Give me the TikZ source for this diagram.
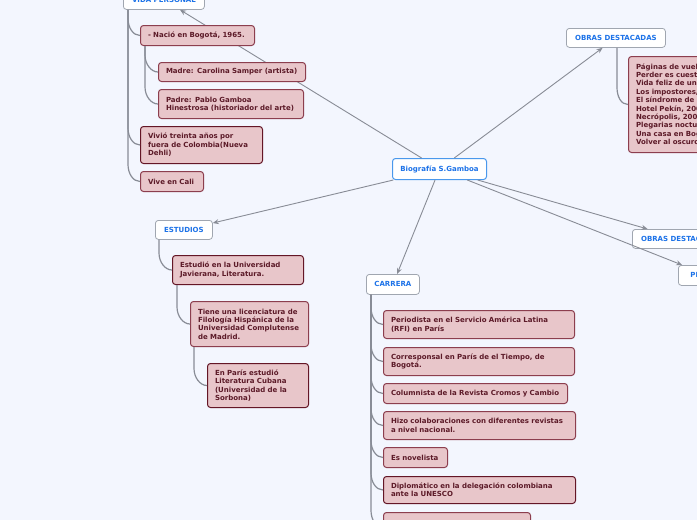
\documentclass[tikz,border=0pt]{standalone}
\usepackage{fontspec}
\setmainfont{DejaVu Sans}
\usetikzlibrary{arrows.meta,calc}

\definecolor{fondo}{RGB}{243,246,254}
\definecolor{rosa}{RGB}{232,198,202}
\definecolor{rosaborde}{RGB}{140,62,78}
\definecolor{rosaoscuro}{RGB}{100,22,38}
\definecolor{rosatexto}{RGB}{92,26,40}
\definecolor{azul}{RGB}{28,114,232}
\definecolor{azulborde}{RGB}{74,152,236}
\definecolor{temaborde}{RGB}{160,166,176}
\definecolor{linea}{RGB}{136,140,150}

\tikzset{
  letra/.style={font={\bfseries\fontsize{7}{8.4}\selectfont}},
  tema/.style={letra, draw=temaborde, fill=white, rounded corners=3pt,
    line width=0.8pt, text=azul, anchor=north west, inner sep=0pt},
  central/.style={tema, draw=azulborde, line width=1pt},
  idea/.style={letra, draw=rosaborde, fill=rosa, rounded corners=3pt,
    line width=1pt, text=rosatexto, anchor=north west, align=left,
    inner xsep=7.5pt, inner ysep=3pt},
  oscuro/.style={draw=rosaoscuro},
  flecha/.style={draw=linea, line width=0.9pt, -{Stealth[length=6pt,width=5pt]}},
  rama/.style={draw=linea, line width=1.2pt},
}

% rama desde el borde inferior del padre hasta el lado izquierdo del hijo
\newcommand\rama[3][5]{%
  \draw[rama] ([xshift=#1pt]#2.south west)
    -- ($(#2.south west |- #3.west)+(#1,-17)$)
    .. controls +(0,9) and +(-7,0) .. (#3.west);}

\begin{document}
\begin{tikzpicture}[x=1pt, y=-1pt]
    \useasboundingbox (0,0) rectangle (697,520);
    \fill[fondo] (0,0) rectangle (697,520);
    \clip (0,0) rectangle (697,520);

    % nodo central
    \node[central, minimum width=94pt, minimum height=21pt] (bio) at (392,158) {Biografía S.Gamboa};

    % temas
    \node[tema, minimum width=81pt, minimum height=19pt] (vida) at (123,-10) {VIDA PERSONAL};
    \node[tema, minimum width=99pt, minimum height=19pt] (obras) at (566,28) {OBRAS DESTACADAS};
    \node[tema, minimum width=57pt, minimum height=19pt] (estudios) at (155,220) {ESTUDIOS};
    \node[tema, minimum width=53pt, minimum height=20pt] (carrera) at (366,274) {CARRERA};
    \node[tema, minimum width=99pt, minimum height=19pt] (obrasdos) at (632,229) {OBRAS DESTACADAS};
    \node[tema, minimum width=60pt, minimum height=20pt] (premios) at (678,265) {PREMIOS};

    \foreach \t in {vida, obras, estudios, carrera, obrasdos, premios}
        \draw[flecha] (bio) -- (\t);

    % vida personal
    \node[idea, text width=99pt, minimum height=20pt] (nacio) at (140,25) {- Nació en Bogotá, 1965.};
    \node[idea, text width=132pt, minimum height=19pt] (madre) at (158,62) {Madre: Carolina Samper (artista)};
    \node[idea, text width=130pt, minimum height=29pt] (padre) at (158,89) {Padre: Pablo Gamboa\\Hinestrosa (historiador del arte)};
    \node[idea, oscuro, text width=107pt, minimum height=37pt] (vivio) at (140,126) {Vivió treinta años por\\fuera de Colombia(Nueva\\Dehli)};
    \node[idea, text width=48pt, minimum height=20pt] (cali) at (140,171) {Vive en Cali};
    \rama{vida}{nacio}
    \rama{vida}{vivio}
    \rama{vida}{cali}
    \rama{nacio}{madre}
    \rama{nacio}{padre}

    % obras destacadas
    \node[idea, text width=200pt, minimum height=96pt] (lista) at (628,56) {Páginas de vuelta, 1995\\Perder es cuestión de método, 1997\\Vida feliz de un joven llamado Esteban, 2000\\Los impostores, 2002\\El síndrome de Ulises, 2005\\Hotel Pekín, 2008\\Necrópolis, 2009\\Plegarias nocturnas, 2012\\Una casa en Bogotá, 2014\\Volver al oscuro valle, 2016};
    \rama[51]{obras}{lista}

    % estudios
    \node[idea, oscuro, text width=116pt, minimum height=29pt] (estuno) at (172,255) {Estudió en la Universidad\\Javierana, Literatura.};
    \node[idea, text width=103pt, minimum height=45pt] (estdos) at (190,301) {Tiene una licenciatura de\\Filología Hispánica de la\\Universidad Complutense\\de Madrid.};
    \node[idea, oscuro, text width=86pt, minimum height=44pt] (esttres) at (207,363) {En París estudió\\Literatura Cubana\\(Universidad de la\\Sorbona)};
    \rama[4]{estudios}{estuno}
    \rama{estuno}{estdos}
    \rama[4]{estdos}{esttres}

    % carrera
    \node[idea, text width=176pt, minimum height=28pt] (car1) at (383,310) {Periodista en el Servicio América Latina\\(RFI) en París};
    \node[idea, text width=176pt, minimum height=28pt] (car2) at (383,347) {Corresponsal en París de el Tiempo, de\\Bogotá.};
    \node[idea, text width=169pt, minimum height=20pt] (car3) at (383,383) {Columnista de la Revista Cromos y Cambio};
    \node[idea, text width=177pt, minimum height=28pt] (car4) at (383,411) {Hizo colaboraciones con diferentes revistas\\a nivel nacional.};
    \node[idea, text width=49pt, minimum height=20pt] (car5) at (383,447) {Es novelista};
    \node[idea, oscuro, text width=177pt, minimum height=27pt] (car6) at (383,476) {Diplomático en la delegación colombiana\\ante la UNESCO};
    \node[idea, text width=132pt, minimum height=30pt] (car7) at (383,512) {};
    \foreach \c in {car1, car2, car3, car4, car5, car6, car7}
        {\rama{carrera}{\c}}
\end{tikzpicture}
\end{document}
